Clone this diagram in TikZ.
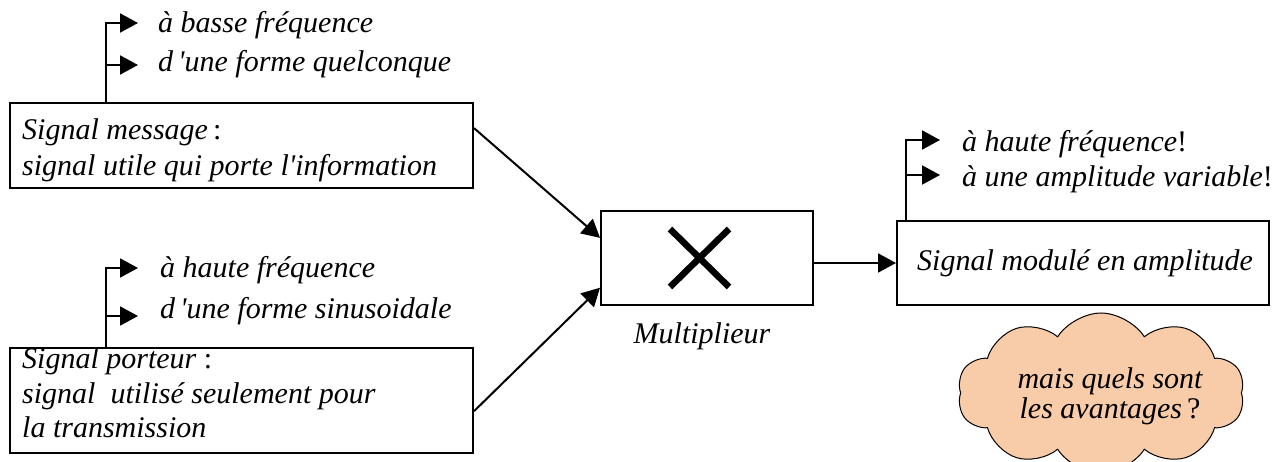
\documentclass[tikz,border=0pt]{standalone}
\usepackage{fontspec}
\setmainfont{Liberation Serif}
\usetikzlibrary{arrows.meta,shapes.symbols,calc}
\definecolor{cloudfill}{RGB}{248,204,168}
\begin{document}
\begin{tikzpicture}[x=1pt,y=-1pt,
  box/.style={draw,line width=2pt,inner sep=0pt},
  txt/.style={anchor=base west,inner sep=0pt,font=\fontsize{30}{36}\selectfont\itshape},
  ctxt/.style={anchor=base,inner sep=0pt,font=\fontsize{30}{36}\selectfont\itshape},
  arr/.style={line width=2pt,-{Triangle[length=18pt,width=19pt]}},
  crossln/.style={line width=6.5pt}]
\useasboundingbox (0,0) rectangle (1287,462);

% cloud
\node[cloud,cloud puffs=10,cloud puff arc=115,cloud ignores aspect,draw,line width=1pt,fill=cloudfill,
      minimum width=287pt,minimum height=160pt,inner sep=0pt] (cl) at (1101,393) {};
\node[ctxt] (q1) at (1110,388) {mais quels sont};
\node[ctxt] (q2) at (1110,418) {les avantages\,{\upshape?}};

% boxes
\node[box,minimum width=463pt,minimum height=85pt] (msg) at (241.5,145.5) {};
\node[box,minimum width=463pt,minimum height=105pt] (por) at (241.5,400.5) {};
\node[box,minimum width=212pt,minimum height=94pt] (mult) at (707,258) {};
\node[box,minimum width=372pt,minimum height=84pt] (out) at (1083,263) {};

% box texts
\node[txt] (msg1) at (22,140) {Signal message\,{\upshape:}};
\node[txt] (msg2) at (22,176) {signal utile qui porte l\textquotesingle information};
\node[txt] (por1) at (22,368) {Signal porteur {\upshape:}};
\node[txt] (por2) at (22,403) {signal\ \ utilisé seulement pour};
\node[txt] (por3) at (22,437) {la transmission};
\node[txt] (out1) at (917,270) {Signal modulé en amplitude};
\node[ctxt] (multl) at (702,343) {Multiplieur};

% cross
\draw[crossln] ($(mult.center)+(-37,-29)$) -- ($(mult.center)+(22,29)$);
\draw[crossln] ($(mult.center)+(22,-29)$) -- ($(mult.center)+(-37,29)$);

% trees
\coordinate (a1) at (138,23); \coordinate (a1b) at (107,65); \coordinate (a2) at (138,65);
\draw[arr] ($(msg.north west)+(97,0)$) |- (a1);
\draw[arr] (a1b) -- (a2);
\node[txt] (t1) at (158,33) {à basse fréquence};
\node[txt] (t2) at (158,72) {d\,\textquotesingle une forme quelconque};

\coordinate (b1) at (138,268); \coordinate (b1b) at (107,316); \coordinate (b2) at (138,316);
\draw[arr] ($(por.north west)+(97,0)$) |- (b1);
\draw[arr] (b1b) -- (b2);
\node[txt] (t3) at (160,277) {à haute fréquence};
\node[txt] (t4) at (160,318) {d\,\textquotesingle une forme sinusoidale};

\coordinate (c1) at (940,140); \coordinate (c1b) at (907,175); \coordinate (c2) at (940,175);
\draw[arr] ($(out.north west)+(10,0)$) |- (c1);
\draw[arr] (c1b) -- (c2);
\node[txt] (t5) at (962,152) {à haute fréquence{\upshape!}};
\node[txt] (t6) at (962,187) {à une amplitude variable{\upshape!}};

% connectors
\draw[arr] ($(msg.north east)!0.3!(msg.south east)$) -- ($(mult.north west)!0.29!(mult.south west)$);
\draw[arr] ($(por.north east)!0.6!(por.south east)$) -- ($(mult.north west)!0.81!(mult.south west)$);
\draw[arr] (mult.east |- out.west) -- (out.west);
\end{tikzpicture}
\end{document}
